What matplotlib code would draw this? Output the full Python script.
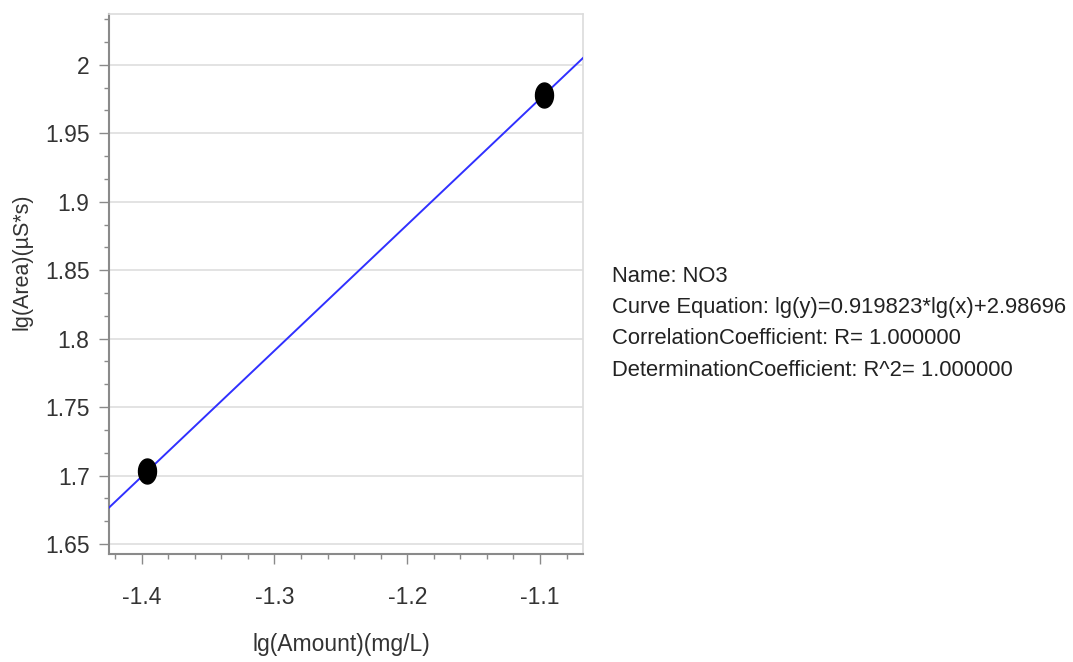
import numpy as np
import matplotlib
matplotlib.use("Agg")
import matplotlib.pyplot as plt
from matplotlib.path import Path
from matplotlib.ticker import MultipleLocator

# calibration points (lg amount, lg area)
lg_amount = [-1.396, -1.097]
lg_area = [1.703, 1.978]

slope = 0.919823
intercept = 2.98696
info_lines = [
    "Name: NO3",
    "Curve Equation: lg(y)=0.919823*lg(x)+2.98696",
    "CorrelationCoefficient: R= 1.000000",
    "DeterminationCoefficient: R^2= 1.000000",
]

font = "Liberation Sans"
txt_color = "#333333"

fig = plt.figure(figsize=(10.73, 6.62), dpi=100)
ax = fig.add_axes([109 / 1073, 1 - 554 / 662, (583 - 109) / 1073, (554 - 14) / 662])

xmin, xmax = -1.4246, -1.0676
ax.set_xlim(xmin, xmax)
ax.set_ylim(1.6427, 2.0371)

# regression line over the whole x range
xl = np.array([xmin, xmax])
ax.plot(xl, slope * xl + intercept, color="#3030ff", lw=1.4, zorder=3)

# slightly tall ellipse marker
t = np.linspace(0, 2 * np.pi, 40)
ell = Path(np.column_stack([0.72 * np.cos(t), np.sin(t)]), closed=True)
ax.plot(lg_amount, lg_area, ls="none", marker=ell, ms=18, color="black", zorder=4)

ax.xaxis.set_major_locator(MultipleLocator(0.1))
ax.xaxis.set_minor_locator(MultipleLocator(0.02))
ax.yaxis.set_major_locator(MultipleLocator(0.05))
ax.yaxis.set_minor_locator(MultipleLocator(0.05 / 3))
ax.yaxis.grid(True, which="major", color="#dedede", lw=1.2)
ax.set_axisbelow(True)

ax.xaxis.set_major_formatter(plt.FuncFormatter(lambda v, p: f"{v:g}"))
ax.yaxis.set_major_formatter(plt.FuncFormatter(lambda v, p: f"{v:g}"))

for s in ["left", "bottom"]:
    ax.spines[s].set_color("#8a8a8a")
    ax.spines[s].set_linewidth(1.5)
for s in ["top", "right"]:
    ax.spines[s].set_color("#dcdcdc")
    ax.spines[s].set_linewidth(1.2)

ax.tick_params(which="major", length=7, width=1, color="#8a8a8a", direction="out",
               labelsize=16.5, labelcolor=txt_color)
ax.tick_params(which="minor", length=3.5, width=1, color="#8a8a8a", direction="out")
ax.tick_params(axis="x", which="major", pad=16)
ax.tick_params(axis="y", which="major", pad=7)
for lab in ax.get_xticklabels() + ax.get_yticklabels():
    lab.set_family(font)

ax.set_xlabel("lg(Amount)(mg/L)", family=font, fontsize=16.5, color=txt_color)
ax.xaxis.set_label_coords(0.49, (554 - 645) / 540)
ax.xaxis.label.set_va("center")

ax.set_ylabel("lg(Area)(µS*s)", family=font, fontsize=15.5, color=txt_color)
ax.yaxis.set_label_coords((22 - 109) / 474, (554 - 262) / 540)
ax.yaxis.label.set_va("center")

for i, line in enumerate(info_lines):
    fig.text(612 / 1073, 1 - (276 + 31.5 * i) / 662, line, family=font, fontsize=15.8,
             color="#222222", va="center", ha="left")

fig.savefig("out.png", dpi=100)
